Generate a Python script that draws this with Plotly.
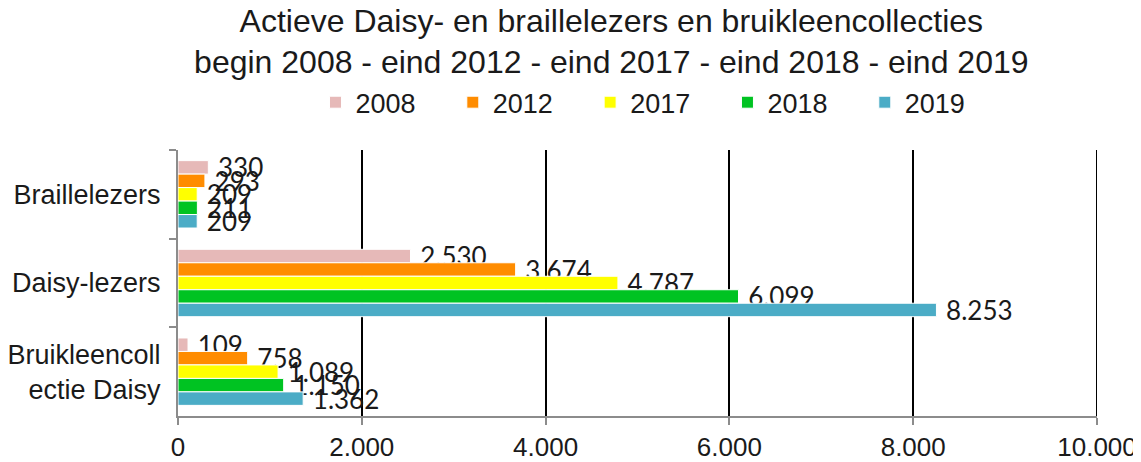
import plotly.graph_objects as go

categories = ["Braillelezers", "Daisy-lezers", "Bruikleencoll<br>ectie Daisy"]
years = ["2008", "2012", "2017", "2018", "2019"]
values = {
    "2008": [330, 2530, 109],
    "2012": [293, 3674, 758],
    "2017": [209, 4787, 1089],
    "2018": [211, 6099, 1150],
    "2019": [209, 8253, 1362],
}
colors = {
    "2008": "#E6B9B8",
    "2012": "#FF8C00",
    "2017": "#FFFF00",
    "2018": "#00C322",
    "2019": "#4BACC6",
}
x_ticks = [0, 2000, 4000, 6000, 8000, 10000]

fig = go.Figure()
for i, y in enumerate(years):
    pad = "\u00a0" * 4 + "\u200a" if i < len(years) - 1 else ""
    fig.add_trace(go.Bar(
        y=categories, x=values[y], name=y + pad, orientation="h",
        marker=dict(color=colors[y], line=dict(color="white", width=1)),
        text=[" " + f"{v:,}".replace(",", ".") for v in values[y]],
        textposition="outside", cliponaxis=False, constraintext="none",
        textfont=dict(family="Lato", size=26, color="#1a1a1a"),
    ))

fig.add_shape(type="line", xref="x", yref="paper", x0=x_ticks[-1], x1=x_ticks[-1],
              y0=0, y1=1, line=dict(color="black", width=2), layer="below")

fig.update_layout(
    width=1133, height=454,
    paper_bgcolor="white", plot_bgcolor="white",
    separators=",.",
    barmode="group", bargap=0.24, bargroupgap=0,
    title=dict(
        text="Actieve Daisy- en braillelezers en bruikleencollecties<br>begin 2008 - eind 2012 - eind 2017 - eind 2018 - eind 2019",
        x=0.5325, xanchor="center", y=0.948, yanchor="top",
        font=dict(family="Liberation Sans", size=32, color="#1a1a1a"),
    ),
    legend=dict(orientation="h", x=0.1496, xanchor="left", y=1.178, yanchor="middle",
                font=dict(family="Liberation Sans", size=27, color="#1a1a1a"),
                itemwidth=30, traceorder="normal", bgcolor="rgba(0,0,0,0)"),
    margin=dict(l=170, r=44, t=142, b=46),
    xaxis=dict(range=[0, 10000], tickvals=x_ticks, tickformat=",", automargin=False,
               showgrid=True, gridcolor="black", gridwidth=2,
               zeroline=False, showline=True, linecolor="#8c8c8c", linewidth=2,
               ticks="outside", tickcolor="#8c8c8c", ticklen=7, tickwidth=2,
               tickfont=dict(family="Liberation Sans", size=26, color="#1a1a1a")),
    yaxis=dict(autorange="reversed", showline=True, linecolor="#8c8c8c", linewidth=2,
               automargin=False, ticklabelstandoff=10,
               ticks="outside", tickson="boundaries", tickcolor="#8c8c8c", ticklen=7, tickwidth=2,
               tickfont=dict(family="Liberation Sans", size=27, color="#1a1a1a")),
)
fig.write_html("out.html")
